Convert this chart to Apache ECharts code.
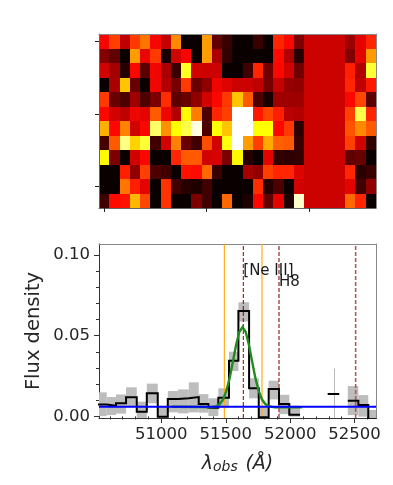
<!DOCTYPE html>
<html>
<head>
<meta charset="utf-8">
<style>
  html, body { margin: 0; padding: 0; background: #fff; }
  #chart { width: 393px; height: 485px; }
</style>
<script src="https://cdn.jsdelivr.net/npm/echarts@6/dist/echarts.min.js"></script>
</head>
<body>
<div id="chart"></div>
<script>
// 2D spectrum, top row first. Columns 20-23 are the flat masked block.
const heatRows = [
  [.36,.46,.27,.45,.54,.36,.28,.57,0,0,.6,.13,.07,0,0,.07,0,.42,.37,.17,.29,.29,.29,.29,.22,.33,.42],
  [.18,.13,0,.6,.34,.45,.02,.3,.36,0,.6,.24,.06,0,0,0,0,.38,.25,.04,.29,.29,.29,.29,.18,.33,.6],
  [.3,.23,.04,.37,.12,.35,.24,.07,.78,.3,.29,.29,0,0,.08,.42,.15,.37,.3,.15,.29,.29,.29,.29,.41,.25,.8],
  [0,.24,.66,.14,0,.35,.25,.16,.45,.14,.2,.35,.32,.29,.29,.27,.16,.28,.21,.2,.29,.29,.29,.29,.42,.27,.4],
  [.45,.14,.1,.22,.1,.17,.43,.12,.14,.2,.3,.37,.45,.66,.5,.1,.02,.22,.22,.22,.29,.29,.29,.29,.37,.47,.12],
  [.37,.3,.27,.35,.33,.5,.35,.25,.74,.55,.1,.42,.46,1,1,.4,.47,.41,.26,.25,.29,.29,.29,.29,.46,.82,.42],
  [.63,.37,.56,.3,.37,.85,.58,.75,.82,.97,.1,.75,.66,1,1,.75,.75,.37,.45,.05,.29,.29,.29,.29,.49,.57,.5],
  [.09,.5,.88,.68,.8,.08,.3,.56,.14,.08,.48,.3,.76,1,.6,.46,.62,.51,.5,.07,.29,.29,.29,.29,.46,.3,.06],
  [.74,.17,0,.3,.37,0,0,.42,.5,.5,.3,.31,.17,.74,.04,0,.33,.06,.05,.06,.29,.29,.29,.29,.13,.14,0],
  [0,0,.41,.2,.46,.1,.08,0,.39,.38,.52,.07,0,0,.23,.2,.46,.42,.42,.32,.29,.29,.29,.29,.42,.05,.07],
  [0,0,.54,.41,.33,0,.44,.08,.04,.03,.08,0,0,0,0,.43,.04,.1,0,.3,.29,.29,.29,.29,.33,.08,.2],
  [.08,.38,.39,.64,.47,0,.44,0,0,.17,.08,0,.52,0,.03,.37,.13,.33,.03,.95,.29,.29,.29,.29,.52,.42,0]
];
const hotColors = ['#0b0000','#5e0000','#b20000','#ff0700','#ff5a00','#ffae00','#ffff04','#ffff80','#ffffff'];

// 1D spectrum: bin edges (Å), flux, and the shaded error range per bin
const binLeft  = [50440,50576,50648,50726,50809,50887,50972,51050,51130,51213,51290,51365,51442,51525,51598,51681,51756,51833,51913,51993,52291,52447,52529,52606];
const binRight = [50576,50648,50726,50809,50887,50972,51050,51130,51213,51290,51365,51442,51525,51598,51681,51756,51833,51913,51993,52076,52381,52529,52606,52690];
const flux     = [.0074,.0066,.0081,.0118,.0029,.0143,-.0002,.0107,.0112,.012,.0076,.0054,.0116,.0345,.0653,.0174,-.0006,.017,.0076,.001,.0138,.0097,.007,-.002];
const fluxLow  = [.0002,.0008,.0017,.006,-.0012,.0081,-.006,.0025,.0019,.0025,.0023,.0002,.0054,.0281,.0587,.0112,-.006,.0105,.0014,-.0002,null,.0008,-.0002,-.008];
const fluxHigh = [.0149,.012,.0136,.018,.0091,.0203,.006,.0157,.0167,.0211,.0138,.0112,.0174,.0401,.0707,.0236,.0064,.0221,.0134,.0066,null,.0188,.0132,.004];

// Fitted line and continuum
const fitX = [51080,51330,51380,51430,51455,51480,51505,51530,51555,51580,51605,51630,51655,51680,51705,51730,51755,51780,51805,51830,51880,52090];
const fitY = [.0060,.0058,.0056,.0064,.0078,.0107,.0159,.0237,.0338,.0442,.0523,.0553,.0523,.0442,.0338,.0237,.0159,.0107,.0078,.0064,.0056,.0056];
const contX = [50516,52666];
const contY = [.006,.006];

const orangeLines = [51489,51781];
const neLine = [51636];
const brownLines = [51913,52508];
const errBarX = 52344;
const errBarY = [.0296,-.001];

const lineLabels = ['[Ne III]','H8'];
const labelX = [51636,51913];
const labelY = [.0851,.0783];

const xTicks = [51000,51500,52000,52500];
const xMinor = [50600,50700,50800,50900,51100,51200,51300,51400,51600,51700,51800,51900,52100,52200,52300,52400,52600];
const yTicks = [0,.05,.1];
const yMinor = [.01,.02,.03,.04,.06,.07,.08,.09];

const FONT = 'DejaVu Sans';
const X_MIN = 50516, X_MAX = 52666, Y_MIN = -.001, Y_MAX = .1068;
const cols = heatRows[0].map((_, i) => String(i));
const rows = heatRows.map((_, i) => String(i));

const heatData = [];
heatRows.forEach((r, j) => r.forEach((v, i) => heatData.push([i, j, v])));

// flat segments with a null between bins that do not touch
const stepData = [];
flux.forEach((v, i) => {
  if (i > 0 && binLeft[i] !== binRight[i - 1]) stepData.push([binLeft[i], null]);
  stepData.push([binLeft[i], v], [binRight[i], v]);
});

const vline = (x, color, width, type) => ({
  type: 'line', xAxisIndex: 1, yAxisIndex: 1, showSymbol: false, silent: true, animation: false,
  data: [[x, Y_MIN], [x, Y_MAX]], lineStyle: { color, width, type }, z: 3
});
const plainLine = (data, color, width, z) => ({
  type: 'line', xAxisIndex: 1, yAxisIndex: 1, showSymbol: false, silent: true, animation: false,
  connectNulls: false, clip: true, data, lineStyle: { color, width, join: 'miter' }, z
});

const option = {
  animation: false,
  backgroundColor: '#fff',
  textStyle: { fontFamily: FONT },
  grid: [
    { left: 99, top: 34, width: 277, height: 174 },
    { left: 99, top: 244, width: 277, height: 174 }
  ],
  visualMap: { show: false, seriesIndex: 0, dimension: 2, min: 0, max: 1, inRange: { color: hotColors } },
  xAxis: [
    { gridIndex: 0, type: 'category', data: cols, position: 'bottom', z: 5,
      axisLine: { show: true, lineStyle: { color: '#666', width: 1 } },
      axisTick: { show: true, alignWithLabel: true, length: 4, interval: (i) => i % 10 === 0, lineStyle: { color: '#222' } },
      axisLabel: { show: false }, splitLine: { show: false } },
    { gridIndex: 1, type: 'value', min: X_MIN, max: X_MAX, position: 'bottom',
      axisLine: { onZero: false, lineStyle: { color: '#333', width: 1 } },
      axisTick: { length: 5, customValues: xTicks, lineStyle: { color: '#333' } },
      axisLabel: { customValues: xTicks, fontSize: 16.5, color: '#262626', margin: 8, fontFamily: FONT, formatter: (v) => String(v), hideOverlap: false },
      splitLine: { show: false },
      name: '{i|λ}{s|obs}  {i|(Å)}', nameLocation: 'middle', nameGap: 36,
      nameTextStyle: { rich: {
        i: { fontSize: 19, fontStyle: 'italic', fontFamily: FONT, color: '#262626' },
        s: { fontSize: 14, fontStyle: 'italic', fontFamily: FONT, color: '#262626', padding: [6, 0, 0, 0] }
      } } },
    { gridIndex: 1, type: 'value', min: X_MIN, max: X_MAX, position: 'bottom',
      axisLine: { show: false },
      axisTick: { length: 3, customValues: xMinor, lineStyle: { color: '#333' } },
      axisLabel: { show: false }, splitLine: { show: false } },
    { gridIndex: 0, type: 'category', data: cols, position: 'top', z: 5,
      axisLine: { show: true, lineStyle: { color: '#888', width: 1 } },
      axisTick: { show: false }, axisLabel: { show: false }, splitLine: { show: false } },
    { gridIndex: 1, type: 'value', min: X_MIN, max: X_MAX, position: 'top',
      axisLine: { onZero: false, lineStyle: { color: '#888', width: 1 } },
      axisTick: { show: false }, axisLabel: { show: false }, splitLine: { show: false } }
  ],
  yAxis: [
    { gridIndex: 0, type: 'category', data: rows, inverse: true, position: 'left', z: 5,
      axisLine: { show: true, lineStyle: { color: '#666', width: 1 } },
      axisTick: { show: true, alignWithLabel: true, length: 4, interval: (i) => i % 5 === 0, lineStyle: { color: '#222' } },
      axisLabel: { show: false }, splitLine: { show: false } },
    { gridIndex: 1, type: 'value', min: Y_MIN, max: Y_MAX, position: 'left',
      axisLine: { onZero: false, lineStyle: { color: '#333', width: 1 } },
      axisTick: { length: 5, customValues: yTicks, lineStyle: { color: '#333' } },
      axisLabel: { customValues: yTicks, fontSize: 16.5, color: '#262626', margin: 9, fontFamily: FONT, formatter: (v) => v.toFixed(2), hideOverlap: false },
      splitLine: { show: false },
      name: 'Flux density', nameLocation: 'middle', nameGap: 55, nameMoveOverlap: false,
      nameTextStyle: { fontSize: 19.5, color: '#262626', fontFamily: FONT } },
    { gridIndex: 1, type: 'value', min: Y_MIN, max: Y_MAX, position: 'left',
      axisLine: { show: false },
      axisTick: { length: 3, customValues: yMinor, lineStyle: { color: '#333' } },
      axisLabel: { show: false }, splitLine: { show: false } },
    { gridIndex: 0, type: 'category', data: rows, inverse: true, position: 'right', z: 5,
      axisLine: { show: true, lineStyle: { color: '#888', width: 1 } },
      axisTick: { show: false }, axisLabel: { show: false }, splitLine: { show: false } },
    { gridIndex: 1, type: 'value', min: Y_MIN, max: Y_MAX, position: 'right',
      axisLine: { onZero: false, lineStyle: { color: '#888', width: 1 } },
      axisTick: { show: false }, axisLabel: { show: false }, splitLine: { show: false } }
  ],
  series: [
    {
      // rects snapped to whole pixels, a heatmap series leaves seams between cells
      type: 'custom', xAxisIndex: 0, yAxisIndex: 0, clip: true, silent: true, z: 2,
      data: heatData,
      encode: { x: 0, y: 1 },
      renderItem: (params, api) => {
        const c = api.coord([api.value(0), api.value(1)]);
        const s = api.size([1, 1]);
        const x0 = Math.round(c[0] - s[0] / 2), x1 = Math.round(c[0] + s[0] / 2);
        const y0 = Math.round(c[1] - s[1] / 2), y1 = Math.round(c[1] + s[1] / 2);
        return { type: 'rect', shape: { x: x0, y: y0, width: x1 - x0, height: y1 - y0 },
          style: { fill: api.visual('color') } };
      }
    },
    {
      type: 'custom', xAxisIndex: 1, yAxisIndex: 1, clip: true, silent: true, z: 1,
      data: flux.map((_, i) => [binLeft[i], binRight[i], fluxLow[i], fluxHigh[i]]).filter(d => d[2] !== null),
      encode: { x: [0, 1], y: [2, 3] },
      renderItem: (params, api) => {
        const p0 = api.coord([api.value(0), api.value(3)]);
        const p1 = api.coord([api.value(1), api.value(2)]);
        return { type: 'rect', shape: { x: p0[0], y: p0[1], width: p1[0] - p0[0], height: p1[1] - p0[1] }, style: { fill: '#bdbdbd' } };
      }
    },
    ...orangeLines.map(x => vline(x, '#ffae1a', 1.2, 'solid')),
    ...neLine.map(x => vline(x, '#8b0000', 1, [4, 2])),
    ...brownLines.map(x => vline(x, '#b05a5a', 1.6, [4, 2])),
    plainLine(errBarY.map(y => [errBarX, y]), 'rgba(120,120,120,0.5)', 1, 4),
    plainLine(stepData, '#000', 2, 5),
    plainLine(fitX.map((x, i) => [x, fitY[i]]), '#228b22', 2.4, 6),
    plainLine(contX.map((x, i) => [x, contY[i]]), '#0000ff', 2, 7),
    {
      type: 'scatter', xAxisIndex: 1, yAxisIndex: 1, symbolSize: 0, silent: true, z: 8,
      data: lineLabels.map((t, i) => ({ value: [labelX[i], labelY[i]], name: t })),
      label: { show: true, position: 'inside', align: 'left', verticalAlign: 'bottom', formatter: '{b}', fontSize: 15, color: '#1a1a1a', fontFamily: FONT, textBorderWidth: 0, opacity: 1 }
    }
  ]
};

const chart = echarts.init(document.getElementById('chart'), null, { renderer: 'canvas' });
chart.setOption(option);
</script>
</body>
</html>
